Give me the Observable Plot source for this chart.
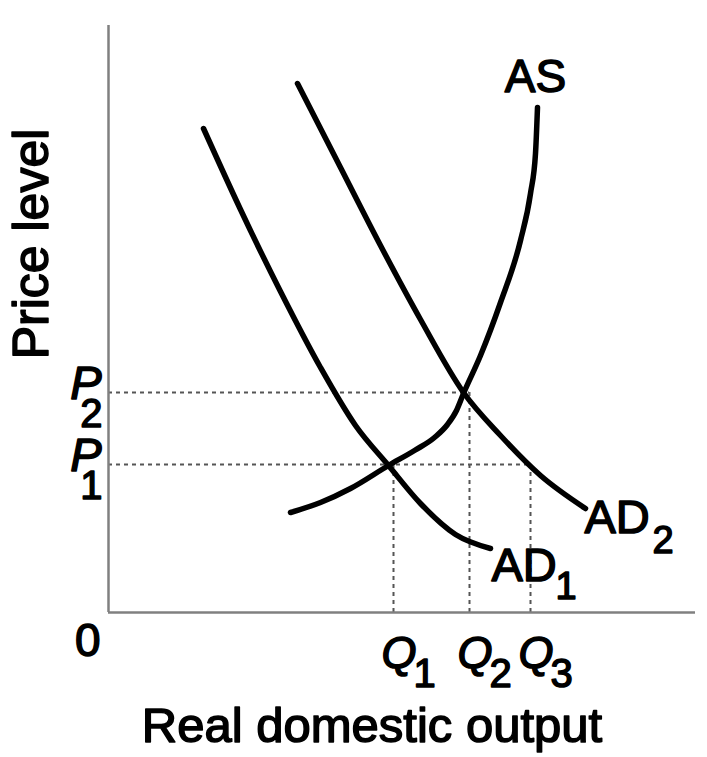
<!DOCTYPE html>
<html>
<head>
<meta charset="utf-8">
<script src="https://cdn.jsdelivr.net/npm/d3@7"></script>
<script src="https://cdn.jsdelivr.net/npm/@observablehq/plot@0.6"></script>
<style>
  html, body { margin: 0; padding: 0; background: #fff; }
</style>
</head>
<body>
<div id="chart"></div>
<script>
// Price levels (P1, P2) and output levels (Q1, Q2, Q3), in chart units
const priceLevels = [148, 220];
const priceSubs = ["1", "2"];
const outputLevels = [285, 361, 422];
const outputSubs = ["1", "2", "3"];

// Curves: [output, price] pairs
const ad1 = [[95,484],[132,403],[172,321],[212,245],[247,187],[280,147],[312,109],[347,78],[382,64]];
const ad2 = [[189,529],[232,445],[272,367],[312,293],[355,220],[392,177],[432,137],[477,104]];
const as  = [[182,100],[212,110],[242,124],[280,147],[306,162],[326,175],[339,188],[348,202],[355,219],[372,257],[392,310],[412,372],[422,419],[427,459],[429,505]];

const curveNames = ["AD", "AD", "AS"];
const curveSubs = ["1", "2", ""];

const xTitle = "Real domestic output";
const yTitle = "Price level";
const originLabel = "0";

// guide segments built from the levels
const hGuides = [
  {y: priceLevels[0], x2: outputLevels[2]},
  {y: priceLevels[1], x2: outputLevels[1]}
];
const vGuides = [
  {x: outputLevels[0], y2: priceLevels[0]},
  {x: outputLevels[1], y2: priceLevels[1]},
  {x: outputLevels[2], y2: priceLevels[0]}
];
const pTicks = priceLevels.map((y, i) => ({y, sub: priceSubs[i]}));
const qTicks = outputLevels.map((x, i) => ({x, sub: outputSubs[i]}));

const FONT = "'Liberation Sans', Arial, Helvetica, sans-serif";
const guideStyle = {stroke: "#555", strokeWidth: 2, strokeDasharray: "4,4"};
const curveStyle = {x: d => d[0], y: d => d[1], curve: "monotone-x", stroke: "#000", strokeWidth: 5.5, strokeLinecap: "round"};
const bold = {fill: "#000", stroke: "#000", strokeWidth: 1.5};

const last = arr => [arr[arr.length - 1]];

const chart = Plot.plot({
  width: 707,
  height: 757,
  marginLeft: 108,
  marginRight: 12,
  marginTop: 25,
  marginBottom: 145,
  style: {fontFamily: FONT, background: "#fff", overflow: "visible"},
  x: {domain: [0, 587], axis: null},
  y: {domain: [0, 587], axis: null},
  marks: [
    // guides
    Plot.ruleY(hGuides, {y: "y", x1: 0, x2: "x2", ...guideStyle}),
    Plot.ruleX(vGuides, {x: "x", y1: 0, y2: "y2", ...guideStyle}),
    // axes
    Plot.ruleX([0], {stroke: "#808080", strokeWidth: 2.5}),
    Plot.ruleY([0], {stroke: "#808080", strokeWidth: 2.5}),
    // curves
    Plot.line(ad1, curveStyle),
    Plot.line(ad2, curveStyle),
    Plot.line(as, curveStyle),
    // curve labels
    Plot.text(last(as), {x: d => d[0], y: d => d[1], text: () => curveNames[2], textAnchor: "middle", lineAnchor: "bottom", dx: -2, dy: -16, fontSize: 46, ...bold}),
    Plot.text(last(ad1), {x: d => d[0], y: d => d[1], text: () => curveNames[0], textAnchor: "start", lineAnchor: "bottom", dx: 1, dy: 32, fontSize: 47, ...bold}),
    Plot.text(last(ad1), {x: d => d[0], y: d => d[1], text: () => curveSubs[0], textAnchor: "start", lineAnchor: "bottom", dx: 65, dy: 50, fontSize: 38, ...bold}),
    Plot.text(last(ad2), {x: d => d[0], y: d => d[1], text: () => curveNames[1], textAnchor: "start", lineAnchor: "bottom", dx: -1, dy: 24, fontSize: 47, ...bold}),
    Plot.text(last(ad2), {x: d => d[0], y: d => d[1], text: () => curveSubs[1], textAnchor: "start", lineAnchor: "bottom", dx: 67, dy: 44, fontSize: 38, ...bold}),
    // price tick labels
    Plot.text(pTicks, {x: 0, y: "y", text: () => "P", textAnchor: "end", lineAnchor: "bottom", dx: -7, dy: 6, fontSize: 47, fontStyle: "italic", ...bold}),
    Plot.text(pTicks, {x: 0, y: "y", text: "sub", textAnchor: "end", lineAnchor: "bottom", dx: -6, dy: 34, fontSize: 40, ...bold}),
    // output tick labels
    Plot.text(qTicks, {x: "x", y: 0, text: () => "Q", textAnchor: "start", lineAnchor: "bottom", dx: -12, dy: 55, fontSize: 45, fontStyle: "italic", ...bold}),
    Plot.text(qTicks, {x: "x", y: 0, text: "sub", textAnchor: "start", lineAnchor: "bottom", dx: 20, dy: 74, fontSize: 40, ...bold}),
    // origin
    Plot.text([originLabel], {frameAnchor: "bottom-left", textAnchor: "end", lineAnchor: "bottom", dx: -8, dy: 43, fontSize: 46, ...bold}),
    // axis titles
    Plot.text([yTitle], {frameAnchor: "left", rotate: -90, textAnchor: "middle", lineAnchor: "bottom", dx: -61, dy: -75, fontSize: 50, ...bold}),
    Plot.text([xTitle], {frameAnchor: "bottom", textAnchor: "middle", lineAnchor: "bottom", dx: -30, dy: 129, fontSize: 49, ...bold})
  ]
});
document.getElementById("chart").appendChild(chart);
</script>
</body>
</html>
